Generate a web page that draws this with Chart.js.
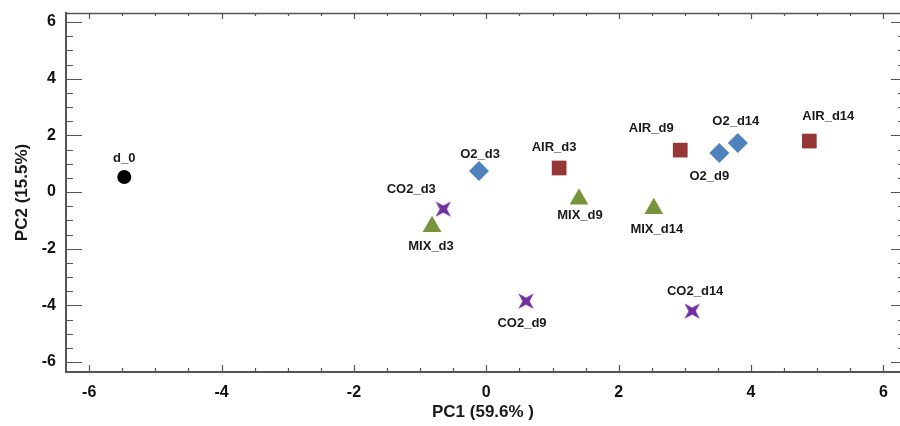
<!DOCTYPE html>
<html>
<head>
<meta charset="utf-8">
<title>PCA scores</title>
<script src="https://cdn.jsdelivr.net/npm/chart.js@4.4.1/dist/chart.umd.min.js"></script>
<style>
  html, body { margin: 0; padding: 0; background: #fff; }
  #wrap { width: 900px; height: 426px; }
</style>
</head>
<body>
<div id="wrap"><canvas id="pca" width="900" height="426"></canvas></div>
<script>
// PCA score values (PC1, PC2) per storage atmosphere
const d0Labels = ['d_0'];
const d0PC1 = [-5.47];
const d0PC2 = [0.53];

const airLabels = ['AIR_d3', 'AIR_d9', 'AIR_d14'];
const airPC1 = [1.10, 2.93, 4.88];
const airPC2 = [0.85, 1.48, 1.80];

const o2Labels = ['O2_d3', 'O2_d9', 'O2_d14'];
const o2PC1 = [-0.11, 3.52, 3.80];
const o2PC2 = [0.74, 1.38, 1.73];

const mixLabels = ['MIX_d3', 'MIX_d9', 'MIX_d14'];
const mixPC1 = [-0.82, 1.40, 2.53];
const mixPC2 = [-1.22, -0.25, -0.58];

const co2Labels = ['CO2_d3', 'CO2_d9', 'CO2_d14'];
const co2PC1 = [-0.65, 0.60, 3.11];
const co2PC2 = [-0.60, -3.85, -4.20];

const axisTicks = [-6, -4, -2, 0, 2, 4, 6];

// where each point label sits relative to its marker (px)
const labelOffset = {
  'd_0': [0, -19],
  'AIR_d3': [-5, -21], 'AIR_d9': [-29, -22], 'AIR_d14': [19, -25],
  'O2_d3': [1, -17], 'O2_d9': [-10, 23], 'O2_d14': [-2, -22],
  'MIX_d3': [-1, 20], 'MIX_d9': [1, 16], 'MIX_d14': [3, 21],
  'CO2_d3': [-32, -20], 'CO2_d9': [-4, 22], 'CO2_d14': [3, -20]
};

const toPoints = (xs, ys) => xs.map((x, i) => ({ x: x, y: ys[i] }));

// four-pointed star marker
function makeStar(color) {
  const c = document.createElement('canvas');
  c.width = 24; c.height = 24;
  const g = c.getContext('2d');
  const cx = 12, cy = 12, outer = 11, inner = 3.6;
  g.beginPath();
  for (let i = 0; i < 8; i++) {
    const a = Math.PI / 4 + i * Math.PI / 4;
    const r = i % 2 === 0 ? outer : inner;
    const px = cx + Math.cos(a) * r, py = cy + Math.sin(a) * r;
    if (i === 0) g.moveTo(px, py); else g.lineTo(px, py);
  }
  g.closePath();
  g.fillStyle = color;
  g.fill();
  return c;
}

const FONT = "'Liberation Sans', Arial, sans-serif";

// point labels
const labelPlugin = {
  id: 'pointLabels',
  afterDatasetsDraw(chart) {
    const ctx = chart.ctx;
    ctx.save();
    ctx.font = 'bold 13px ' + FONT;
    ctx.fillStyle = '#1a1a1a';
    ctx.textAlign = 'center';
    ctx.textBaseline = 'middle';
    chart.data.datasets.forEach((ds, di) => {
      const meta = chart.getDatasetMeta(di);
      meta.data.forEach((el, i) => {
        const name = ds.names[i];
        const off = labelOffset[name] || [0, -18];
        ctx.fillText(name, el.x + off[0], el.y + off[1]);
      });
    });
    ctx.restore();
  }
};

// inward tick marks on all four sides, plus the top frame line
const framePlugin = {
  id: 'frameTicks',
  afterDraw(chart) {
    const { ctx, chartArea: a, scales } = chart;
    const xs = scales.x, ys = scales.y;
    ctx.save();
    ctx.strokeStyle = '#555';
    ctx.lineWidth = 1.5;
    ctx.beginPath();
    ctx.moveTo(a.left, a.top + 0.5);
    ctx.lineTo(a.right, a.top + 0.5);
    ctx.stroke();

    ctx.lineWidth = 1.2;
    ctx.beginPath();
    for (let v = -6; v <= 6.001; v += 0.5) {
      const major = Math.abs(v % 2) < 0.001;
      const px = Math.round(xs.getPixelForValue(v)) + 0.5;
      ctx.moveTo(px, a.bottom);
      ctx.lineTo(px, a.bottom - (major ? 7 : 4));
      ctx.moveTo(px, a.top);
      ctx.lineTo(px, a.top + (major ? 6 : 3));
      const py = Math.round(ys.getPixelForValue(v)) + 0.5;
      ctx.moveTo(a.left, py);
      ctx.lineTo(a.left + (major ? 16 : 7), py);
      ctx.moveTo(a.right, py);
      ctx.lineTo(a.right - (major ? 9 : 2), py);
    }
    ctx.stroke();
    ctx.restore();
  }
};

const markerSet = (names, xs, ys, style, color, radius) => ({
  names: names,
  data: toPoints(xs, ys),
  pointStyle: style,
  pointRadius: radius,
  pointHoverRadius: radius,
  backgroundColor: color,
  borderColor: color,
  borderWidth: 0
});

new Chart(document.getElementById('pca').getContext('2d'), {
  type: 'scatter',
  data: {
    datasets: [
      markerSet(d0Labels, d0PC1, d0PC2, 'circle', '#000000', 7),
      markerSet(airLabels, airPC1, airPC2, 'rect', '#953735', 10.4),
      markerSet(o2Labels, o2PC1, o2PC2, 'rectRot', '#4F81BD', 10),
      markerSet(mixLabels, mixPC1, mixPC2, 'triangle', '#77933C', 10.8),
      markerSet(co2Labels, co2PC1, co2PC2, makeStar('#7030A0'), '#7030A0', 10)
    ]
  },
  options: {
    responsive: false,
    animation: false,
    layout: { autoPadding: false, padding: { top: 13, right: 0, left: 0, bottom: 0 } },
    plugins: {
      legend: { display: false },
      tooltip: { enabled: false }
    },
    scales: {
      x: {
        type: 'linear',
        min: -6.35,
        max: 6.25,
        afterBuildTicks: (s) => { s.ticks = axisTicks.map(v => ({ value: v })); },
        afterFit: (s) => { s.height = 54; s.paddingLeft = 0; s.paddingRight = 0; },
        grid: { display: false, drawTicks: false },
        border: { display: true, color: '#555', width: 2 },
        ticks: {
          padding: 11,
          color: '#111',
          font: { family: FONT, size: 16, weight: 'bold' }
        },
        title: {
          display: true,
          text: 'PC1 (59.6% )',
          color: '#1a1a1a',
          padding: { top: 3, bottom: 3 },
          font: { family: FONT, size: 17, weight: 'bold' }
        }
      },
      y: {
        type: 'linear',
        min: -6.35,
        max: 6.32,
        afterBuildTicks: (s) => { s.ticks = axisTicks.map(v => ({ value: v })); },
        afterFit: (s) => { s.width = 66; s.paddingTop = 0; s.paddingBottom = 0; },
        grid: { display: false, drawTicks: false },
        border: { display: true, color: '#555', width: 2 },
        ticks: {
          padding: 10,
          color: '#111',
          font: { family: FONT, size: 16, weight: 'bold' }
        },
        title: {
          display: true,
          text: 'PC2 (15.5%)',
          color: '#1a1a1a',
          padding: { top: 12, bottom: 12 },
          font: { family: FONT, size: 17, weight: 'bold' }
        }
      }
    }
  },
  plugins: [labelPlugin, framePlugin]
});
</script>
</body>
</html>
